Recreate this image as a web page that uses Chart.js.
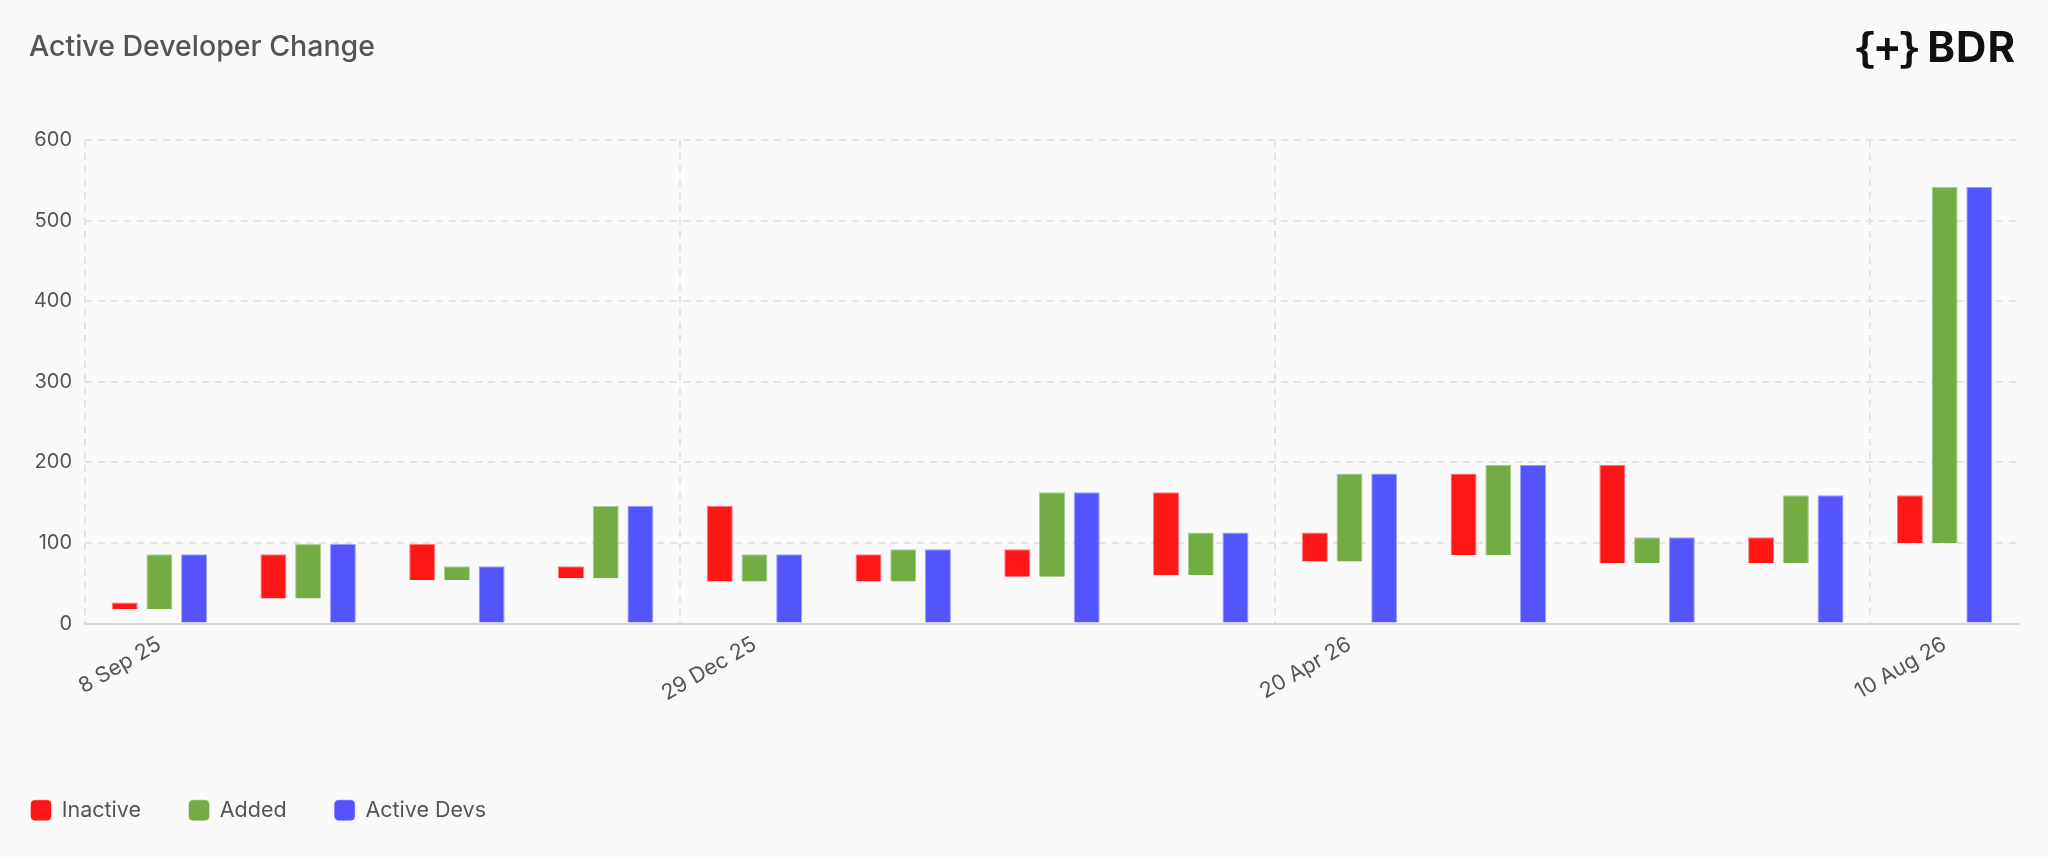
<!DOCTYPE html>
<html>
<head>
<meta charset="utf-8">
<script src="https://cdn.jsdelivr.net/npm/chart.js@4.4.1/dist/chart.umd.min.js"></script>
<style>
  html, body { margin: 0; padding: 0; background: #fafafa; }
  #wrap { position: relative; width: 2048px; height: 857px; }
  #title { position: absolute; left: 29px; top: 28px; font: 500 28.5px Inter, sans-serif; color: #555; }
  #logo { position: absolute; right: 32px; top: 21px; font: 700 42px Inter, sans-serif; color: #111; letter-spacing: 1px; }
  #logo span { font-family: "DejaVu Sans Mono", monospace; font-size: 40px; margin-right: 8px; letter-spacing: -2px; }
</style>
</head>
<body>
<div id="wrap">
  <div id="title">Active Developer Change</div>
  <div id="logo"><span>{+}</span>BDR</div>
  <canvas id="chart"></canvas>
</div>
<script>
// 4-weekly periods
const periods = ['8 Sep 25', '6 Oct 25', '3 Nov 25', '1 Dec 25', '29 Dec 25', '26 Jan 26', '23 Feb 26',
    '23 Mar 26', '20 Apr 26', '18 May 26', '15 Jun 26', '13 Jul 26', '10 Aug 26'];
const activeDevs = [86, 99, 71, 146, 86, 92, 163, 113, 186, 197, 107, 159, 542];
const added = [68, 68, 17, 90, 34, 40, 105, 53, 109, 112, 32, 84, 442];
const inactive = [8, 55, 45, 15, 94, 34, 34, 103, 36, 101, 122, 32, 59];
const yMax = 600;
const yStep = 100;

// Floating bars: inactive and added sit on the same base
const inactiveBars = periods.map((p, i) => {
    const base = activeDevs[i] - added[i];
    return [base, base + inactive[i]];
});
const addedBars = periods.map((p, i) => [activeDevs[i] - added[i], activeDevs[i]]);
const activeBars = periods.map((p, i) => [0, activeDevs[i]]);

const gridColor = '#e4e4e8';
const gridDash = [7, 6];

new Chart(document.getElementById('chart'), {
    type: 'bar',
    data: {
        labels: periods,
        datasets: [
            {label: 'Inactive', data: inactiveBars, backgroundColor: '#ff1616', borderColor: 'rgba(255,22,22,0.55)', borderWidth: 1},
            {label: 'Added', data: addedBars, backgroundColor: '#72ac43', borderColor: 'rgba(114,172,67,0.55)', borderWidth: 1},
            {label: 'Active Devs', data: activeBars, backgroundColor: '#5555ff', borderColor: 'rgba(85,85,255,0.55)', borderWidth: 1}
        ]
    },
    options: {
        responsive: true,
        maintainAspectRatio: false,
        devicePixelRatio: 1,
        animation: false,
        categoryPercentage: 0.7,
        barPercentage: 0.75,
        layout: {padding: {top: 140, right: 29, left: -17, bottom: 26}},
        plugins: {
            tooltip: {enabled: false},
            legend: {
                position: 'bottom',
                align: 'start',
                labels: {
                    boxWidth: 20,
                    boxHeight: 20,
                    padding: 48,
                    color: '#555',
                    font: {family: 'Inter', size: 21.5},
                    useBorderRadius: true,
                    borderRadius: 4
                }
            }
        },
        scales: {
            x: {
                afterFit: scale => { scale.height = 128; },
                grid: {
                    drawTicks: false,
                    color: ctx => ctx.index % 4 === 0 ? gridColor : 'transparent',
                    lineWidth: 2
                },
                border: {display: true, color: '#d6d6de', width: 2, dash: gridDash},
                ticks: {
                    autoSkip: false,
                    minRotation: 30,
                    maxRotation: 30,
                    padding: 8,
                    color: '#555',
                    font: {family: 'Inter', size: 21.5},
                    callback: (v, i) => i % 4 === 0 ? periods[i] : ''
                }
            },
            y: {
                min: 0,
                max: yMax,
                afterFit: scale => { scale.width = 102; },
                border: {display: false, dash: gridDash},
                grid: {drawTicks: false, color: gridColor, lineWidth: 2},
                ticks: {
                    stepSize: yStep,
                    padding: 13,
                    color: '#555',
                    font: {family: 'Inter', size: 20}
                }
            }
        }
    }
});
</script>
</body>
</html>
